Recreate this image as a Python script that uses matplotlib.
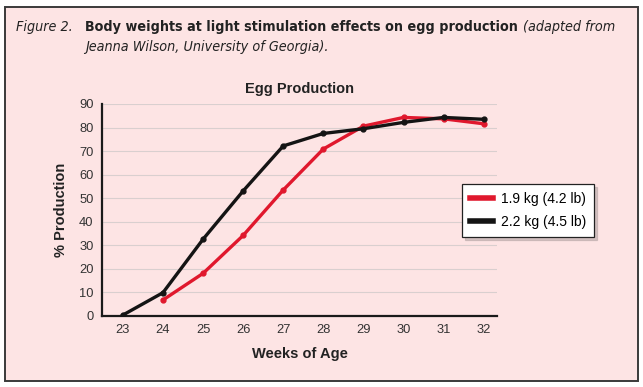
import matplotlib
matplotlib.use("Agg")
import matplotlib.pyplot as plt
from matplotlib.patches import Rectangle

weeks = [23, 24, 25, 26, 27, 28, 29, 30, 31, 32]
red_weeks = [24, 25, 26, 27, 28, 29, 30, 31, 32]
red_vals = [6.8, 18.1, 34.2, 53.5, 70.9, 80.6, 84.3, 83.7, 81.6]
black_vals = [0.4, 9.9, 32.6, 53.1, 72.2, 77.5, 79.5, 82.2, 84.3, 83.5]
series_labels = ["1.9 kg (4.2 lb)", "2.2 kg (4.5 lb)"]
yticks = [0, 10, 20, 30, 40, 50, 60, 70, 80, 90]

cap_kw = dict(family="DejaVu Sans", stretch="condensed", fontsize=10.3, color="#222222", va="center")
chart_font = "Liberation Sans"

W, H = 643, 387
fig = plt.figure(figsize=(W / 100, H / 100), dpi=100)
fig.patch.set_facecolor("white")
pink = "#fde4e4"
frame = Rectangle((5 / W, 1 - 381 / H), 633 / W, 374 / H, transform=fig.transFigure,
                  facecolor=pink, edgecolor="#3a3a3a", linewidth=1.4, zorder=-5)
fig.add_artist(frame)

# caption
fig.text(16 / W, 1 - 27 / H, "Figure 2.", style="italic", **cap_kw)
t_bold = fig.text(85 / W, 1 - 27 / H, "Body weights at light stimulation effects on egg production",
                  weight="bold", **cap_kw)
fig.text(85 / W, 1 - 47 / H, "Jeanna Wilson, University of Georgia).", style="italic", **cap_kw)
fig.canvas.draw()
bb = t_bold.get_window_extent()
fig.text((bb.x1 + 5) / W, 1 - 27 / H, "(adapted from", style="italic", **cap_kw)

ax = fig.add_axes([102 / W, 1 - 316 / H, (497 - 102) / W, (316 - 104) / H])
ax.set_facecolor("none")
ax.set_xlim(22.48, 32.33)
ax.set_ylim(0, 90)
for y in yticks[1:]:
    ax.axhline(y, color="#d9cfcf", linewidth=0.8, zorder=1)

ax.plot(red_weeks, red_vals, color="#e0182d", linewidth=2.4, marker="o", markersize=3.5,
        label=series_labels[0], zorder=3)
ax.plot(weeks, black_vals, color="#141414", linewidth=2.4, marker="o", markersize=3.5,
        label=series_labels[1], zorder=4)

ax.set_xticks(weeks)
ax.set_yticks(yticks)
ax.tick_params(axis="both", length=0, labelsize=9.3, colors="#333333", pad=6)
for lab in ax.get_xticklabels() + ax.get_yticklabels():
    lab.set_family(chart_font)
for s in ["top", "right"]:
    ax.spines[s].set_visible(False)
for s in ["left", "bottom"]:
    ax.spines[s].set_color("#1a1a1a")
    ax.spines[s].set_linewidth(1.6)

ax.set_title("Egg Production", fontsize=10.5, weight="bold", family=chart_font,
             color="#222222", pad=8)
ax.set_xlabel("Weeks of Age", fontsize=10.5, weight="bold", family=chart_font,
              color="#222222", labelpad=8)
ax.set_ylabel("% Production", fontsize=10.5, weight="bold", family=chart_font,
              color="#222222", labelpad=8)

leg = ax.legend(loc="upper left", bbox_to_anchor=(462 / W, 1 - 184 / H),
                bbox_transform=fig.transFigure, frameon=True, fancybox=False,
                shadow={"color": "#b8a8a8", "alpha": 0.6},
                prop={"family": chart_font, "size": 10}, handlelength=1.6, borderpad=0.6,
                labelspacing=0.6, handletextpad=0.6, borderaxespad=0)
leg.get_frame().set_edgecolor("#222222")
leg.get_frame().set_linewidth(0.9)
for h in leg.get_lines():
    h.set_marker("")
    h.set_linewidth(4)

fig.savefig("out.png", dpi=100)
